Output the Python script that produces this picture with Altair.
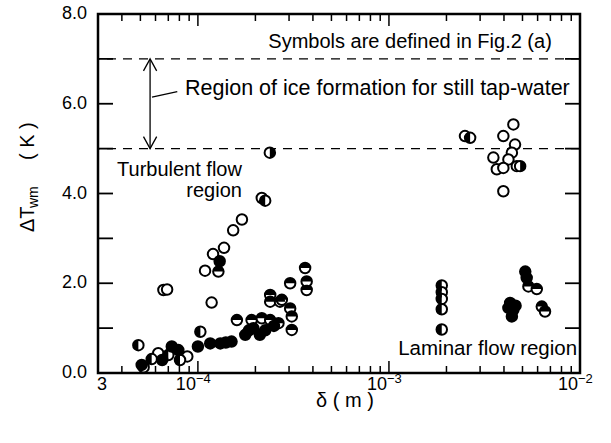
import altair as alt
import pandas as pd

FONT = "Liberation Sans"

# ---------------- data ----------------
open_x = [5.2e-5, 6.2e-5, 8.8e-5, 6.6e-5, 6.9e-5, 1.09e-4, 1.18e-4, 1.2e-4, 1.37e-4,
          1.53e-4, 1.70e-4, 2.16e-4,
          2.5e-3, 3.97e-3, 4.48e-3, 4.57e-3, 4.40e-3, 3.52e-3, 4.22e-3, 4.67e-3,
          3.67e-3, 3.97e-3, 3.97e-3]
open_y = [0.13, 0.44, 0.37, 1.85, 1.86, 2.28, 1.57, 2.65, 2.79,
          3.18, 3.42, 3.90,
          5.28, 5.28, 5.54, 5.09, 4.91, 4.80, 4.76, 4.61,
          4.54, 4.57, 4.05]

filled_x = [5.08e-5, 7.3e-5, 6.5e-5, 7.9e-5, 1.0e-4, 1.16e-4, 1.31e-4, 1.5e-4, 1.77e-4,
            2.11e-4, 1.95e-4, 1.3e-4, 1.4e-4, 1.85e-4, 2.25e-4, 2.5e-4,
            5.17e-3, 5.26e-3, 4.31e-3, 4.48e-3, 4.40e-3, 4.22e-3, 4.6e-3]
filled_y = [0.18, 0.59, 0.29, 0.51, 0.59, 0.66, 0.66, 0.70, 0.85,
            0.85, 1.00, 2.49, 0.68, 0.95, 0.95, 1.05,
            2.26, 2.12, 1.56, 1.41, 1.26, 1.45, 1.50]

halfL_x = [4.88e-5, 2.25e-4, 2.66e-3, 1.89e-3, 1.89e-3, 1.89e-3, 1.89e-3, 1.89e-3,
           1.03e-4, 5.73e-5, 7.0e-5, 8.06e-5]
halfL_y = [0.62, 3.84, 5.24, 1.95, 1.80, 1.65, 1.42, 0.97,
           0.92, 0.31, 0.40, 0.29]

halfR_x = [2.38e-4, 4.86e-3]
halfR_y = [4.91, 4.61]

halfT_x = [1.6e-4, 1.91e-4, 2.16e-4, 2.39e-4, 2.39e-4, 2.39e-4, 2.69e-4, 2.64e-4,
           3.04e-4, 3.10e-4, 3.10e-4, 3.64e-4, 3.04e-4, 3.71e-4, 3.71e-4, 2.75e-4,
           1.28e-4, 5.37e-3, 5.94e-3, 6.31e-3, 6.56e-3]
halfT_y = [1.18, 1.18, 1.22, 1.18, 1.74, 1.59, 1.59, 1.11,
           1.44, 1.26, 0.96, 2.34, 2.00, 1.85, 2.04, 1.63,
           2.26, 1.93, 1.87, 1.48, 1.37]

y_label_values = [0, 2, 4, 6, 8]
y_label_texts = ["0.0", "2.0", "4.0", "6.0", "8.0"]
y_tick_values = [1, 2, 3, 4, 5, 6, 7]
x_minor_ticks = [4e-5, 5e-5, 6e-5, 7e-5, 8e-5, 9e-5,
                 2e-4, 3e-4, 4e-4, 5e-4, 6e-4, 7e-4, 8e-4, 9e-4,
                 2e-3, 3e-3, 4e-3, 5e-3, 6e-3, 7e-3, 8e-3, 9e-3]
x_major_ticks = [1e-4, 1e-3]
x_dec_values = [1e-4, 1e-3, 1e-2]
x_dec_exps = ["\u22124", "\u22123", "\u22122"]
x_first_value = [3e-5]
x_first_label = ["3"]
limit_levels = [5.0, 7.0]

arrow_x = [5.62e-5]
arrow_lo = [5.0]
arrow_hi = [7.0]
leader = dict(x=[5.75e-5], x2=[7.8e-5], y=[6.15], y2=[6.27])

notes = pd.DataFrame({
    "text": ["Symbols are defined in Fig.2 (a)",
             "Region of ice formation for still tap-water",
             "Turbulent flow", "region", "Laminar flow region"],
    "x": [1.29e-3, 8.56e-5, 1.70e-4, 1.70e-4, 9.66e-3],
    "y": [7.24, 6.20, 4.38, 3.93, 0.40],
    "fs": [20, 21.5, 20, 20, 20.5],
    "align": ["center", "left", "right", "right", "right"],
})

# ---------------- chart ----------------
XS = alt.Scale(type="log", domain=[3e-5, 1e-2])
YS = alt.Scale(domain=[0, 8])
W, H = 482, 359

pts = pd.concat([
    pd.DataFrame({"x": open_x, "y": open_y, "kind": "o"}),
    pd.DataFrame({"x": halfL_x, "y": halfL_y, "kind": "hl"}),
    pd.DataFrame({"x": halfR_x, "y": halfR_y, "kind": "hr"}),
    pd.DataFrame({"x": halfT_x, "y": halfT_y, "kind": "ht"}),
    pd.DataFrame({"x": filled_x, "y": filled_y, "kind": "f"}),
], ignore_index=True)

X = alt.X("x:Q", scale=XS, axis=None)
Y = alt.Y("y:Q", scale=YS, axis=None)
MS = 110

base_pts = alt.Chart(pts).mark_point(
    shape="circle", filled=True, stroke="black", strokeWidth=2, size=MS, opacity=1
).encode(
    x=X, y=Y,
    fill=alt.condition(alt.datum.kind == "f", alt.value("black"), alt.value("white")),
)

half_pts = alt.Chart(pts).transform_filter(
    alt.FieldOneOfPredicate(field="kind", oneOf=["hl", "hr", "ht"])
).mark_point(filled=True, color="black", strokeWidth=0, size=MS, opacity=1).encode(
    x=X, y=Y,
    shape=alt.Shape("kind:N", legend=None, scale=alt.Scale(
        domain=["hl", "hr", "ht"],
        range=["M0,-1 A1,1 0 0,0 0,1 Z",
               "M0,-1 A1,1 0 0,1 0,1 Z",
               "M-1,0 A1,1 0 0,1 1,0 Z"])),
)

ylab = alt.Chart(pd.DataFrame({"v": y_label_values, "t": y_label_texts})).mark_text(
    align="right", baseline="middle", fontSize=18, font=FONT, color="black"
).encode(y=alt.Y("v:Q", scale=YS, axis=None), x=alt.value(-11), text="t:N")

def yticks(x0, x1):
    return alt.Chart(pd.DataFrame({"v": y_tick_values})).mark_rule(
        color="black", strokeWidth=1.8).encode(
        y=alt.Y("v:Q", scale=YS, axis=None), x=alt.value(x0), x2=alt.value(x1))

def xticks(vals, y0, y1):
    return alt.Chart(pd.DataFrame({"v": vals})).mark_rule(
        color="black", strokeWidth=1.5).encode(
        x=alt.X("v:Q", scale=XS, axis=None), y=alt.value(y0), y2=alt.value(y1))

ticks = [yticks(0, 15), yticks(W - 15, W),
         xticks(x_minor_ticks, H, H - 7), xticks(x_major_ticks, H, H - 12),
         xticks(x_minor_ticks, 0, 7), xticks(x_major_ticks, 0, 12)]

ten = alt.Chart(pd.DataFrame({"v": x_dec_values})).mark_text(
    text="10", align="right", baseline="alphabetic", fontSize=18, font=FONT, dx=-2, color="black"
).encode(x=alt.X("v:Q", scale=XS, axis=None), y=alt.value(H + 17))
exps = alt.Chart(pd.DataFrame({"v": x_dec_values, "t": x_dec_exps})).mark_text(
    align="left", baseline="alphabetic", fontSize=13, font=FONT, dx=-2, color="black"
).encode(x=alt.X("v:Q", scale=XS, axis=None), y=alt.value(H + 10), text="t:N")
first = alt.Chart(pd.DataFrame({"v": x_first_value, "t": x_first_label})).mark_text(
    align="center", baseline="alphabetic", fontSize=18, font=FONT, dx=4, color="black"
).encode(x=alt.X("v:Q", scale=XS, axis=None), y=alt.value(H + 17), text="t:N")

limits = alt.Chart(pd.DataFrame({"v": limit_levels})).mark_rule(
    color="black", strokeWidth=1.3, strokeDash=[9, 7]
).encode(y=alt.Y("v:Q", scale=YS, axis=None))

arrow_df = pd.DataFrame({"x": arrow_x, "lo": arrow_lo, "hi": arrow_hi})
arrow = alt.Chart(arrow_df).mark_rule(color="black", strokeWidth=1.3).encode(
    x=alt.X("x:Q", scale=XS, axis=None),
    y=alt.Y("lo:Q", scale=YS, axis=None), y2="hi:Q")
head_up = alt.Chart(arrow_df).mark_point(
    shape="M-0.55,1 L0,0 L0.55,1", filled=False, color="black", strokeWidth=1.3,
    size=576, opacity=1).encode(
    x=alt.X("x:Q", scale=XS, axis=None), y=alt.Y("hi:Q", scale=YS, axis=None))
head_dn = alt.Chart(arrow_df).mark_point(
    shape="M-0.55,-1 L0,0 L0.55,-1", filled=False, color="black", strokeWidth=1.3,
    size=576, opacity=1).encode(
    x=alt.X("x:Q", scale=XS, axis=None), y=alt.Y("lo:Q", scale=YS, axis=None))
lead = alt.Chart(pd.DataFrame(leader)).mark_rule(color="black", strokeWidth=1.3).encode(
    x=alt.X("x:Q", scale=XS, axis=None), x2="x2:Q",
    y=alt.Y("y:Q", scale=YS, axis=None), y2="y2:Q")

note_layers = []
for al in ["left", "center", "right"]:
    note_layers.append(
        alt.Chart(notes).transform_filter(alt.datum.align == al).mark_text(
            align=al, baseline="alphabetic", font=FONT, color="black"
        ).encode(x=alt.X("x:Q", scale=XS, axis=None), y=alt.Y("y:Q", scale=YS, axis=None),
                 text="text:N", size=alt.Size("fs:Q", scale=None, legend=None)))

one = pd.DataFrame({"a": [0]})
ytitle = [
    alt.Chart(one).mark_text(text="\u0394T", angle=270, align="left", baseline="middle",
                             fontSize=20, font=FONT, color="black"
                             ).encode(x=alt.value(-70), y=alt.value(218)),
    alt.Chart(one).mark_text(text="wm", angle=270, align="left", baseline="middle",
                             fontSize=14, font=FONT, color="black"
                             ).encode(x=alt.value(-64), y=alt.value(194)),
    alt.Chart(one).mark_text(text="( K )", angle=270, align="left", baseline="middle",
                             fontSize=20, font=FONT, color="black"
                             ).encode(x=alt.value(-70), y=alt.value(146)),
]
xtitle = alt.Chart(one).mark_text(text="\u03b4  ( m )", align="center", baseline="alphabetic",
                                  fontSize=20, font=FONT, color="black"
                                  ).encode(x=alt.value(247), y=alt.value(393))

chart = alt.layer(
    limits, arrow, head_up, head_dn, lead, *ticks, ylab,
    base_pts, half_pts, ten, exps, first, *note_layers, *ytitle, xtitle,
).properties(
    width=W, height=H,
    autosize=alt.AutoSizeParams(type="none"),
    padding={"left": 98, "top": 14, "right": 31, "bottom": 70},
    background="white",
).configure_view(stroke="black", strokeWidth=2.5)

chart.save("out.html", embed_options={"renderer": "svg", "actions": False})
